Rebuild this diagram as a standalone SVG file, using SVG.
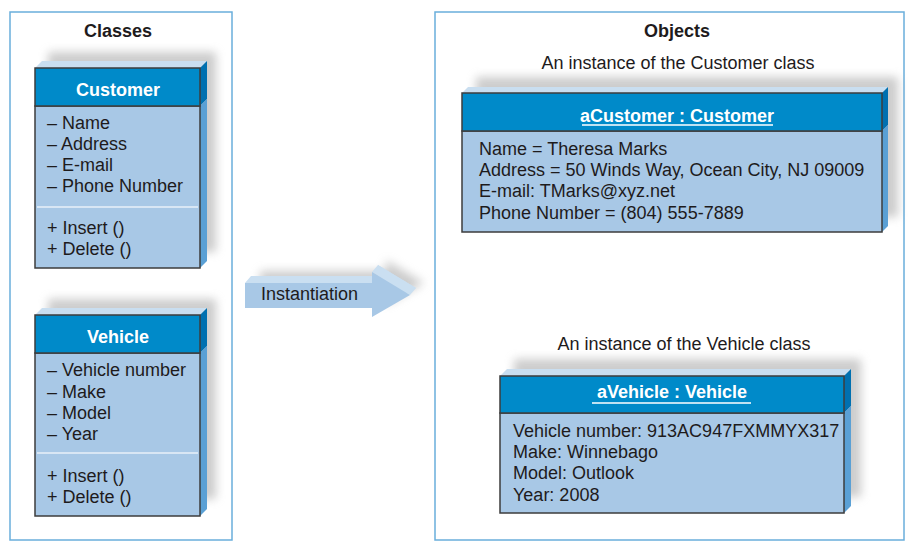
<svg xmlns="http://www.w3.org/2000/svg" width="924" height="550" viewBox="0 0 924 550">
<defs>
<filter id="blur" x="-20%" y="-30%" width="140%" height="160%"><feGaussianBlur stdDeviation="5"/></filter>
</defs>
<style>
text{font-family:"Liberation Sans",Arial,sans-serif;font-size:18px;fill:#1e1b1c}
.b{font-weight:bold}
.w{fill:#fff;font-weight:bold}
.panel{fill:#fff;stroke:#6aaedb;stroke-width:1.5}
.shadow{fill:#9a9a9a;opacity:.5;filter:url(#blur)}
.top{fill:#c9def0}
.rh{fill:#0070b0}
.rb{fill:#5aa0d5}
.hdr{fill:#008ac9;stroke:#3c3c3c;stroke-width:1.5}
.body{fill:#a8c8e6;stroke:#3c3c3c;stroke-width:1.5}
.sep{stroke:#e8f1f9;stroke-width:1.5}
.ul{stroke:#fff;stroke-width:1.3}
.arrF{fill:#a8c8e6}
.arrT{fill:#cadff1}
</style>
<rect x="0" y="0" width="924" height="550" fill="#fff"/>
<g id="classes-panel">
<rect class="panel" x="10" y="12" width="222" height="528"/>
<text class="b" x="118" y="37" text-anchor="middle">Classes</text>
</g>
<g id="objects-panel">
<rect class="panel" x="435" y="12" width="469" height="528"/>
<text class="b" x="677" y="37" text-anchor="middle">Objects</text>
<text x="678" y="69" text-anchor="middle">An instance of the Customer class</text>
<text x="684" y="350" text-anchor="middle">An instance of the Vehicle class</text>
</g>
<g id="customer-class">
<rect class="shadow" x="48" y="52" width="168" height="200"/>
<polygon class="top" points="35,68 42,61 207,61 200,68"/>
<polygon class="rh" points="200,68 207,61 207,99 200,106"/>
<polygon class="rb" points="200,106 207,99 207,261 200,268"/>
<rect class="body" x="35" y="106" width="165" height="162"/>
<rect class="hdr" x="35" y="68" width="165" height="38"/>
<text class="w" x="118" y="96" text-anchor="middle">Customer</text>
<text x="47" y="129">– Name</text>
<text x="47" y="150">– Address</text>
<text x="47" y="171">– E-mail</text>
<text x="47" y="192">– Phone Number</text>
<line class="sep" x1="37" y1="207" x2="198" y2="207"/>
<text x="47" y="234">+ Insert ()</text>
<text x="47" y="255">+ Delete ()</text>
</g>
<g id="vehicle-class">
<rect class="shadow" x="48" y="299" width="168" height="200"/>
<polygon class="top" points="35,315 42,308 207,308 200,315"/>
<polygon class="rh" points="200,315 207,308 207,346 200,353"/>
<polygon class="rb" points="200,353 207,346 207,509 200,516"/>
<rect class="body" x="35" y="353" width="165" height="163"/>
<rect class="hdr" x="35" y="315" width="165" height="38"/>
<text class="w" x="118" y="343" text-anchor="middle">Vehicle</text>
<text x="47" y="376">– Vehicle number</text>
<text x="47" y="397.5">– Make</text>
<text x="47" y="419">– Model</text>
<text x="47" y="440">– Year</text>
<line class="sep" x1="37" y1="453" x2="198" y2="453"/>
<text x="47" y="482">+ Insert ()</text>
<text x="47" y="503">+ Delete ()</text>
</g>
<g id="customer-object">
<rect class="shadow" x="476" y="77" width="422" height="140"/>
<polygon class="top" points="462,93 468,87 888,87 882,93"/>
<polygon class="rh" points="882,93 888,87 888,125 882,131"/>
<polygon class="rb" points="882,131 888,125 888,226 882,232"/>
<rect class="body" x="462" y="131" width="420" height="101"/>
<rect class="hdr" x="462" y="93" width="420" height="38"/>
<text class="w" x="677" y="122" text-anchor="middle">aCustomer : Customer</text>
<line class="ul" x1="582" y1="125" x2="773" y2="125"/>
<text x="479" y="155">Name = Theresa Marks</text>
<text x="479" y="176">Address = 50 Winds Way, Ocean City, NJ 09009</text>
<text x="479" y="197">E-mail: TMarks@xyz.net</text>
<text x="479" y="219">Phone Number = (804) 555-7889</text>
</g>
<g id="vehicle-object">
<rect class="shadow" x="514" y="359" width="347" height="138"/>
<polygon class="top" points="500,376 507,369 851,369 844,376"/>
<polygon class="rh" points="844,376 851,369 851,406 844,413"/>
<polygon class="rb" points="844,413 851,406 851,506 844,513"/>
<rect class="body" x="500" y="413" width="344" height="100"/>
<rect class="hdr" x="500" y="376" width="344" height="37"/>
<text class="w" x="672" y="398" text-anchor="middle">aVehicle : Vehicle</text>
<line class="ul" x1="592" y1="403" x2="751" y2="403"/>
<text x="513" y="437">Vehicle number: 913AC947FXMMYX317</text>
<text x="513" y="458">Make: Winnebago</text>
<text x="513" y="479">Model: Outlook</text>
<text x="513" y="501">Year: 2008</text>
</g>
<g id="connectors">
<g id="instantiation-arrow">
<polygon class="shadow" points="260,271 386,271 386,260 424,283 386,305 386,296 260,296"/>
<polygon class="arrT" points="251,276 378,276 378,265 416,288 378,310 378,301 251,301"/>
<polygon class="arrT" points="245,283 251,276 378,276 372,283"/>
<polygon class="arrT" points="372,272 378,265 416,288 410,295"/>
<polygon class="arrF" points="245,283 372,283 372,272 410,295 372,317 372,308 245,308"/>
<text x="261" y="300">Instantiation</text>
</g>
</g>
</svg>
